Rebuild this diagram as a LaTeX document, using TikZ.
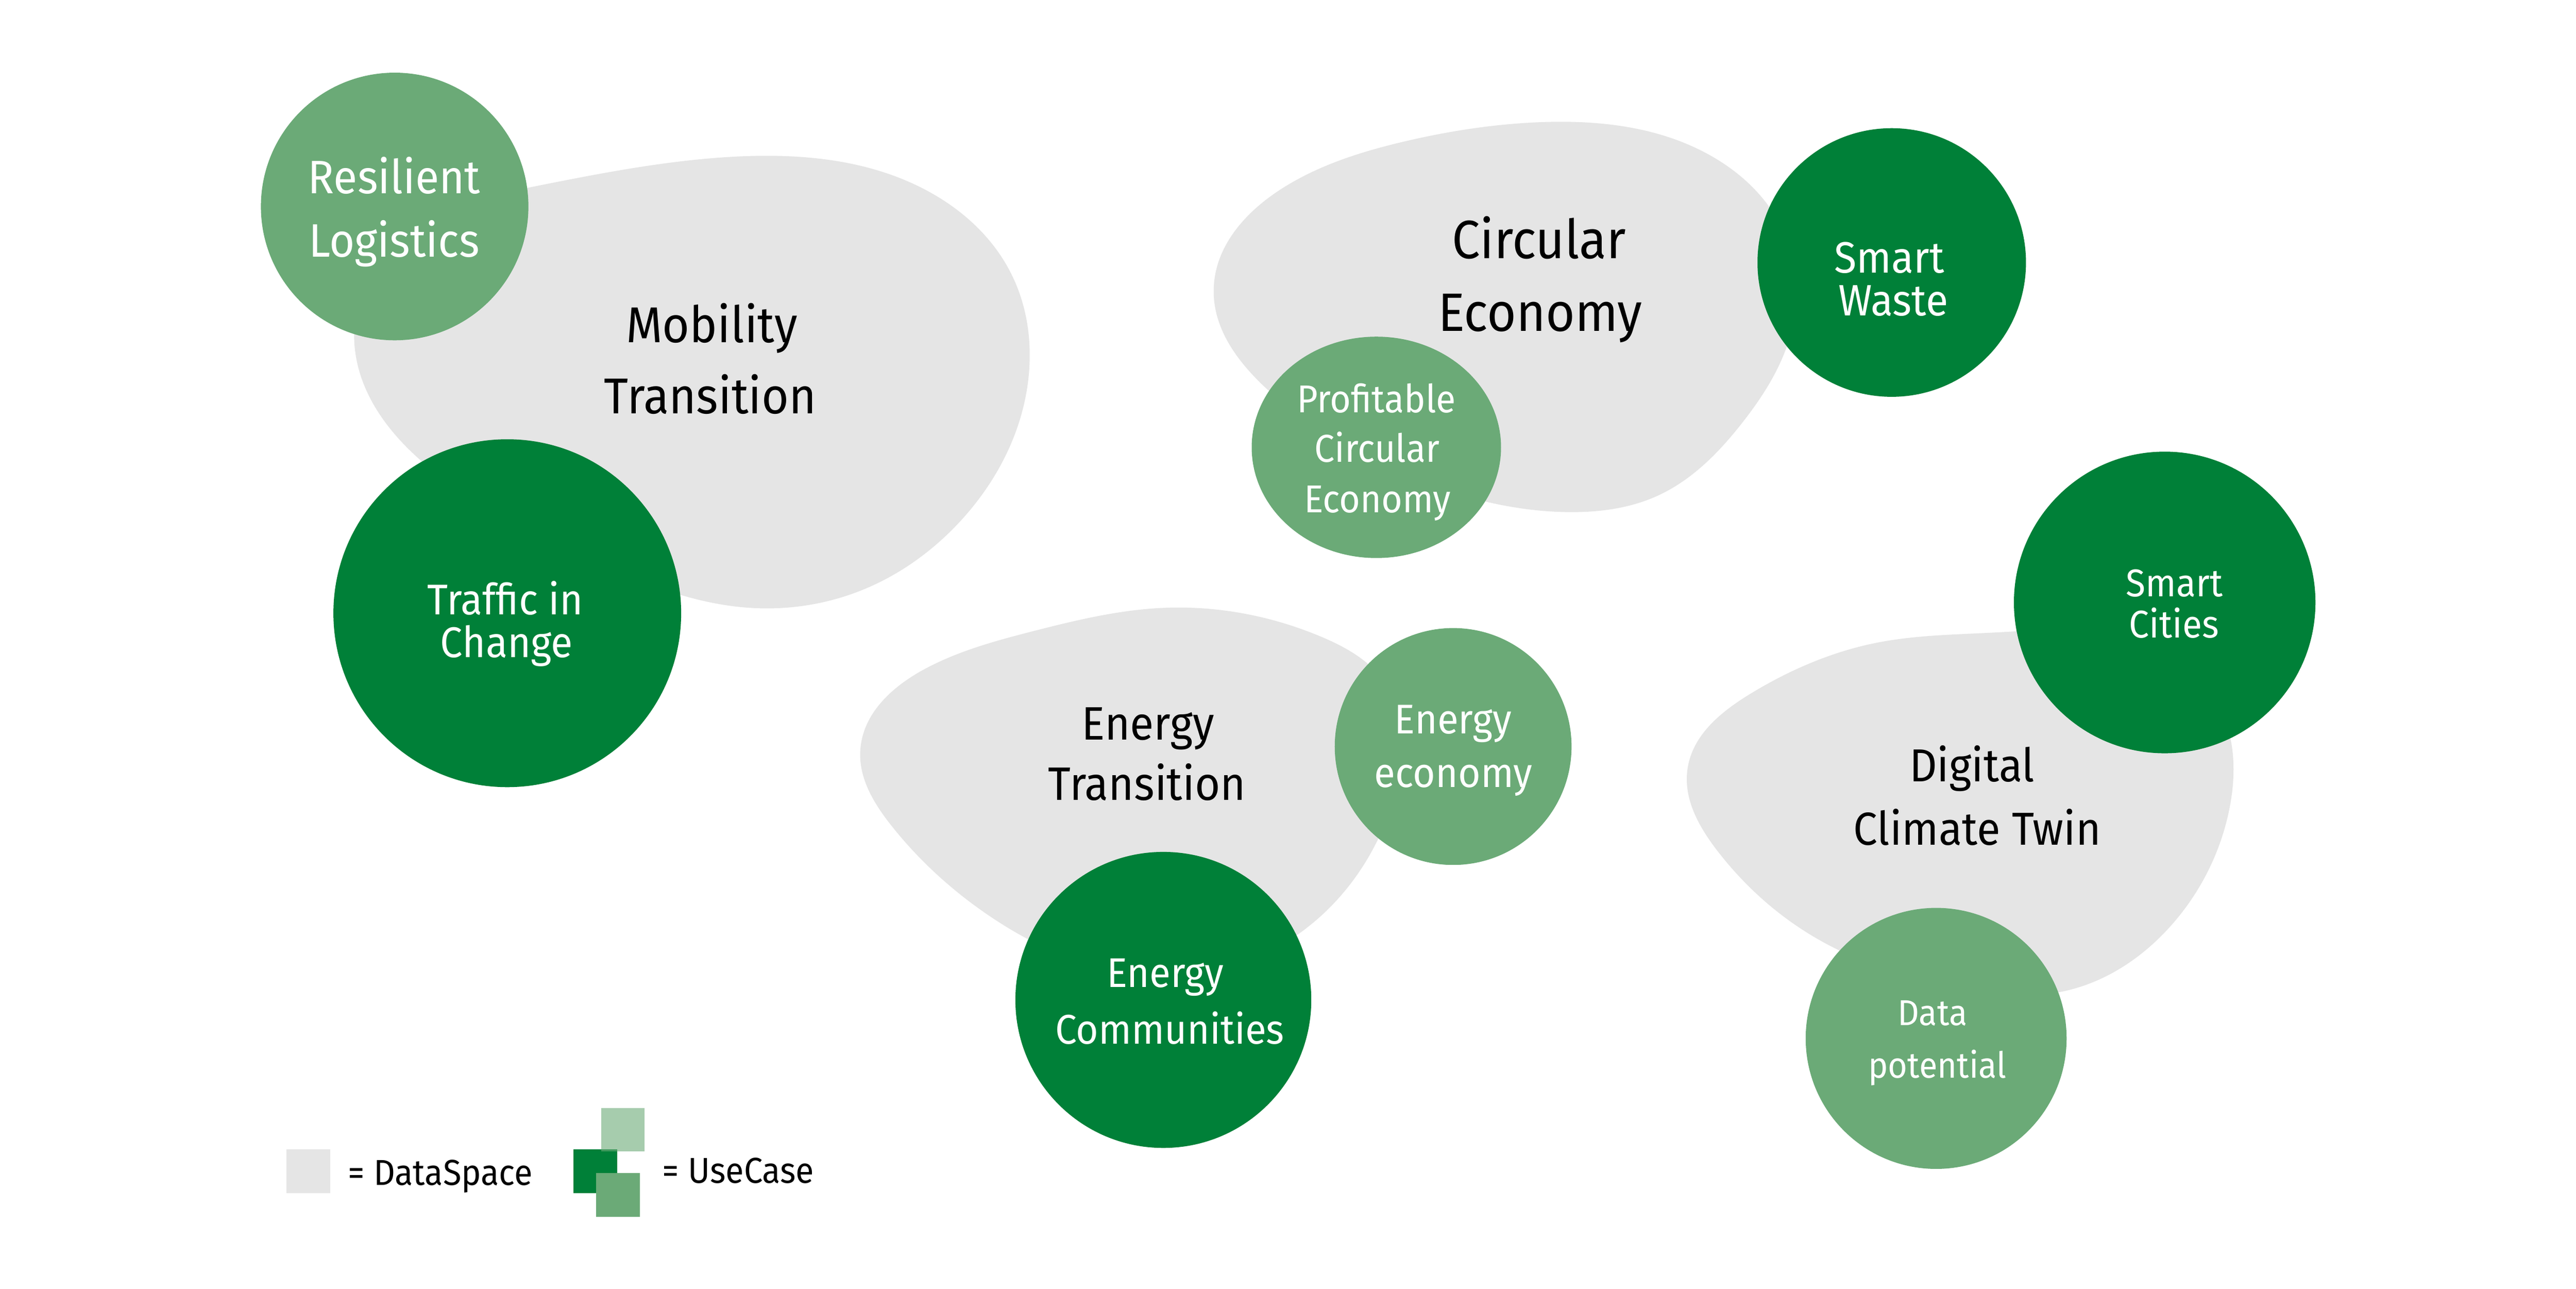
\documentclass[tikz,border=0pt]{standalone}
\usepackage{fontspec}
\setmainfont{Fira Sans}[FakeStretch=0.93]
\usetikzlibrary{shapes.geometric,hobby}
\definecolor{dsgrey}{HTML}{E5E5E5}
\definecolor{ucdark}{HTML}{008038}
\definecolor{ucmid}{HTML}{6BAA77}
\newcommand\fsz[1]{\fontsize{#1}{#1}\selectfont}
\begin{document}
\begin{tikzpicture}[x=1pt,y=-1pt,
  blob/.style={fill=dsgrey},
  ucd/.style={circle, fill=ucdark, inner sep=0pt, outer sep=0pt},
  ucm/.style={circle, fill=ucmid, inner sep=0pt, outer sep=0pt},
  dstext/.style={anchor=base, inner sep=0pt, text=black},
  uctext/.style={anchor=base, inner sep=0pt, text=white},
  legsq/.style={rectangle, inner sep=0pt, minimum size=26.5pt}
]
\useasboundingbox[fill=white] (0,0) rectangle (1560,780);

% ---- data spaces (blobs)
\fill[blob] plot[closed hobby] coordinates {
  (240,145) (318,114) (442,95) (566,118) (612,165) (622,235)
  (582,315) (520,358) (455,368) (340,330) (254,278) (215,212)};
\fill[blob] plot[closed hobby] coordinates {
  (932,74) (1039,96) (1080,140) (1085,200) (1055,256)
  (1004,300) (950,310) (870,295) (770,238) (735,175) (775,115) (849,86)};
\fill[blob] plot[closed hobby] coordinates {
  (704,368) (799,385) (840,415) (845,480) (813,541)
  (760,580) (690,590) (600,555) (540,500) (521,454) (560,405) (626,382)};
\fill[blob] plot[closed hobby] coordinates {
  (1206,383) (1300,390) (1345,430) (1350,490)
  (1315,560) (1250,600) (1180,597) (1100,568) (1040,515) (1022,465)
  (1060,420) (1137,389)};

% ---- use cases (circles)
\node[ucm, minimum size=162pt] (resil) at (239,125) {};
\node[ucd, minimum size=210.6pt] (traffic) at (307.2,371.2) {};
\node[ucd, minimum size=162.6pt] (waste) at (1145.6,158.9) {};
\node[ellipse, fill=ucmid, inner sep=0pt, minimum width=151pt, minimum height=134pt] (profit) at (833.5,270.8) {};
\node[ucd, minimum size=182.6pt] (cities) at (1310.9,364.7) {};
\node[ucm, minimum size=143.4pt] (eecon) at (880,451.9) {};
\node[ucd, minimum size=179.2pt] (ecomm) at (704.5,605.3) {};
\node[ucm, minimum size=158pt] (datap) at (1172.5,628.6) {};

% ---- data space labels
\node[dstext, font=\fsz{30.5}] (mobA) at (431,207.2) {Mobility};
\node[dstext, font=\fsz{30.5}] (mobB) at (430.2,250.4) {Transition};
\node[dstext, font=\fsz{32.7}] (circA) at (932,156.5) {Circular};
\node[dstext, font=\fsz{32.7}] (circB) at (932.7,200.4) {Economy};
\node[dstext, font=\fsz{28.4}] (enA) at (695.2,447.9) {Energy};
\node[dstext, font=\fsz{28.4}] (enB) at (694.7,484.4) {Transition};
\node[dstext, font=\fsz{28}] (digA) at (1194.2,473.1) {Digital};
\node[dstext, font=\fsz{28}] (digB) at (1197.4,511.4) {Climate Twin};

% ---- use case labels
\node[uctext, font=\fsz{28.4}] (resA) at (238.7,117.2) {Resilient};
\node[uctext, font=\fsz{28.4}] (resB) at (238.7,155.5) {Logistics};
\node[uctext, font=\fsz{26}] (trA) at (306,371.9) {Traffic in};
\node[uctext, font=\fsz{26}] (trB) at (306.8,397.8) {Change};
\node[uctext, font=\fsz{26.6}] (swA) at (1144.1,165.1) {Smart};
\node[uctext, font=\fsz{26.6}] (swB) at (1146.5,191.0) {Waste};
\node[uctext, font=\fsz{23.5}] (prA) at (833.5,249.8) {Profitable};
\node[uctext, font=\fsz{23.5}] (prB) at (833.9,279.8) {Circular};
\node[uctext, font=\fsz{23.5}] (prC) at (834.2,310.2) {Economy};
\node[uctext, font=\fsz{23.4}] (scA) at (1316.9,361.1) {Smart};
\node[uctext, font=\fsz{23.4}] (scB) at (1316.6,386.2) {Cities};
\node[uctext, font=\fsz{25.1}] (eeA) at (880,444.2) {Energy};
\node[uctext, font=\fsz{25.1}] (eeB) at (880.2,476.7) {economy};
\node[uctext, font=\fsz{25.1}] (ecA) at (705.7,597.6) {Energy};
\node[uctext, font=\fsz{25.1}] (ecB) at (708.4,631.8) {Communities};
\node[uctext, font=\fsz{21.8}] (dpA) at (1170.3,620.8) {Data};
\node[uctext, font=\fsz{21.8}] (dpB) at (1173.2,652.5) {potential};

% ---- legend
\node[legsq, fill=dsgrey] (lgrey) at (186.8,709.1) {};
\node[anchor=base west, inner sep=0pt, font=\fsz{21.8}] (lds) at (210.5,717.3) {= DataSpace};
\node[legsq, fill=ucdark] (ldark) at (360.5,709.1) {};
\node[legsq, fill=ucmid, fill opacity=0.6] (lpale) at (377.2,683.9) {};
\node[legsq, fill=ucmid] (lmid) at (374.2,723.3) {};
\node[anchor=base west, inner sep=0pt, font=\fsz{21.8}] (luc) at (401,716.3) {= UseCase};
\end{tikzpicture}
\end{document}
